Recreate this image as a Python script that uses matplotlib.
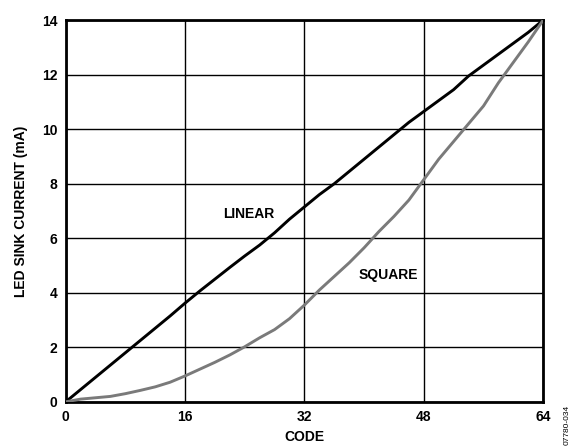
import matplotlib
matplotlib.use("Agg")
import matplotlib.pyplot as plt

plt.rcParams['font.family'] = ['Liberation Sans', 'DejaVu Sans']
plt.rcParams['font.weight'] = 'bold'

codes = list(range(0, 65, 2))
linear_ma = [0.0, 0.45, 0.9, 1.35, 1.8, 2.25, 2.7, 3.15, 3.62, 4.07, 4.5, 4.93,
             5.35, 5.75, 6.2, 6.7, 7.15, 7.6, 8.0, 8.45, 8.9, 9.35, 9.8, 10.25,
             10.65, 11.05, 11.45, 11.95, 12.35, 12.75, 13.15, 13.55, 14.0]
square_ma = [0.0, 0.1, 0.15, 0.2, 0.3, 0.42, 0.55, 0.72, 0.95, 1.2, 1.45, 1.72,
             2.02, 2.35, 2.65, 3.05, 3.55, 4.1, 4.6, 5.1, 5.65, 6.25, 6.8, 7.4,
             8.15, 8.9, 9.55, 10.2, 10.85, 11.7, 12.45, 13.2, 14.0]
x_ticks = [0, 16, 32, 48, 64]
y_ticks = [0, 2, 4, 6, 8, 10, 12, 14]

fig = plt.figure(figsize=(5.76, 4.47), dpi=100)
ax = fig.add_axes([0.114, 0.101, 0.829, 0.854])

ax.plot(codes, linear_ma, color='black', lw=2.1, zorder=3)
ax.plot(codes, square_ma, color='#7a7a7a', lw=2.1, zorder=3)

ax.set_xlim(0, 64)
ax.set_ylim(0, 14)
ax.set_xticks(x_ticks)
ax.set_yticks(y_ticks)
ax.grid(True, color='black', lw=1.0)
ax.tick_params(length=0, labelsize=10, pad=6)
for s in ax.spines.values():
    s.set_linewidth(2)

ax.set_xlabel('CODE', fontsize=10, fontweight='bold', labelpad=4)
ax.set_ylabel('LED SINK CURRENT (mA)', fontsize=10, fontweight='bold', labelpad=10)

ax.text(24.5, 6.9, 'LINEAR', fontsize=10, fontweight='bold', ha='center', va='center')
ax.text(43.2, 4.65, 'SQUARE', fontsize=10, fontweight='bold', ha='center', va='center')

# figure id in the bottom right corner
fig.text(0.985, 0.004, '07780-034', rotation=90, fontsize=6, fontweight='normal',
         ha='center', va='bottom')

fig.savefig('out.png', dpi=100)
